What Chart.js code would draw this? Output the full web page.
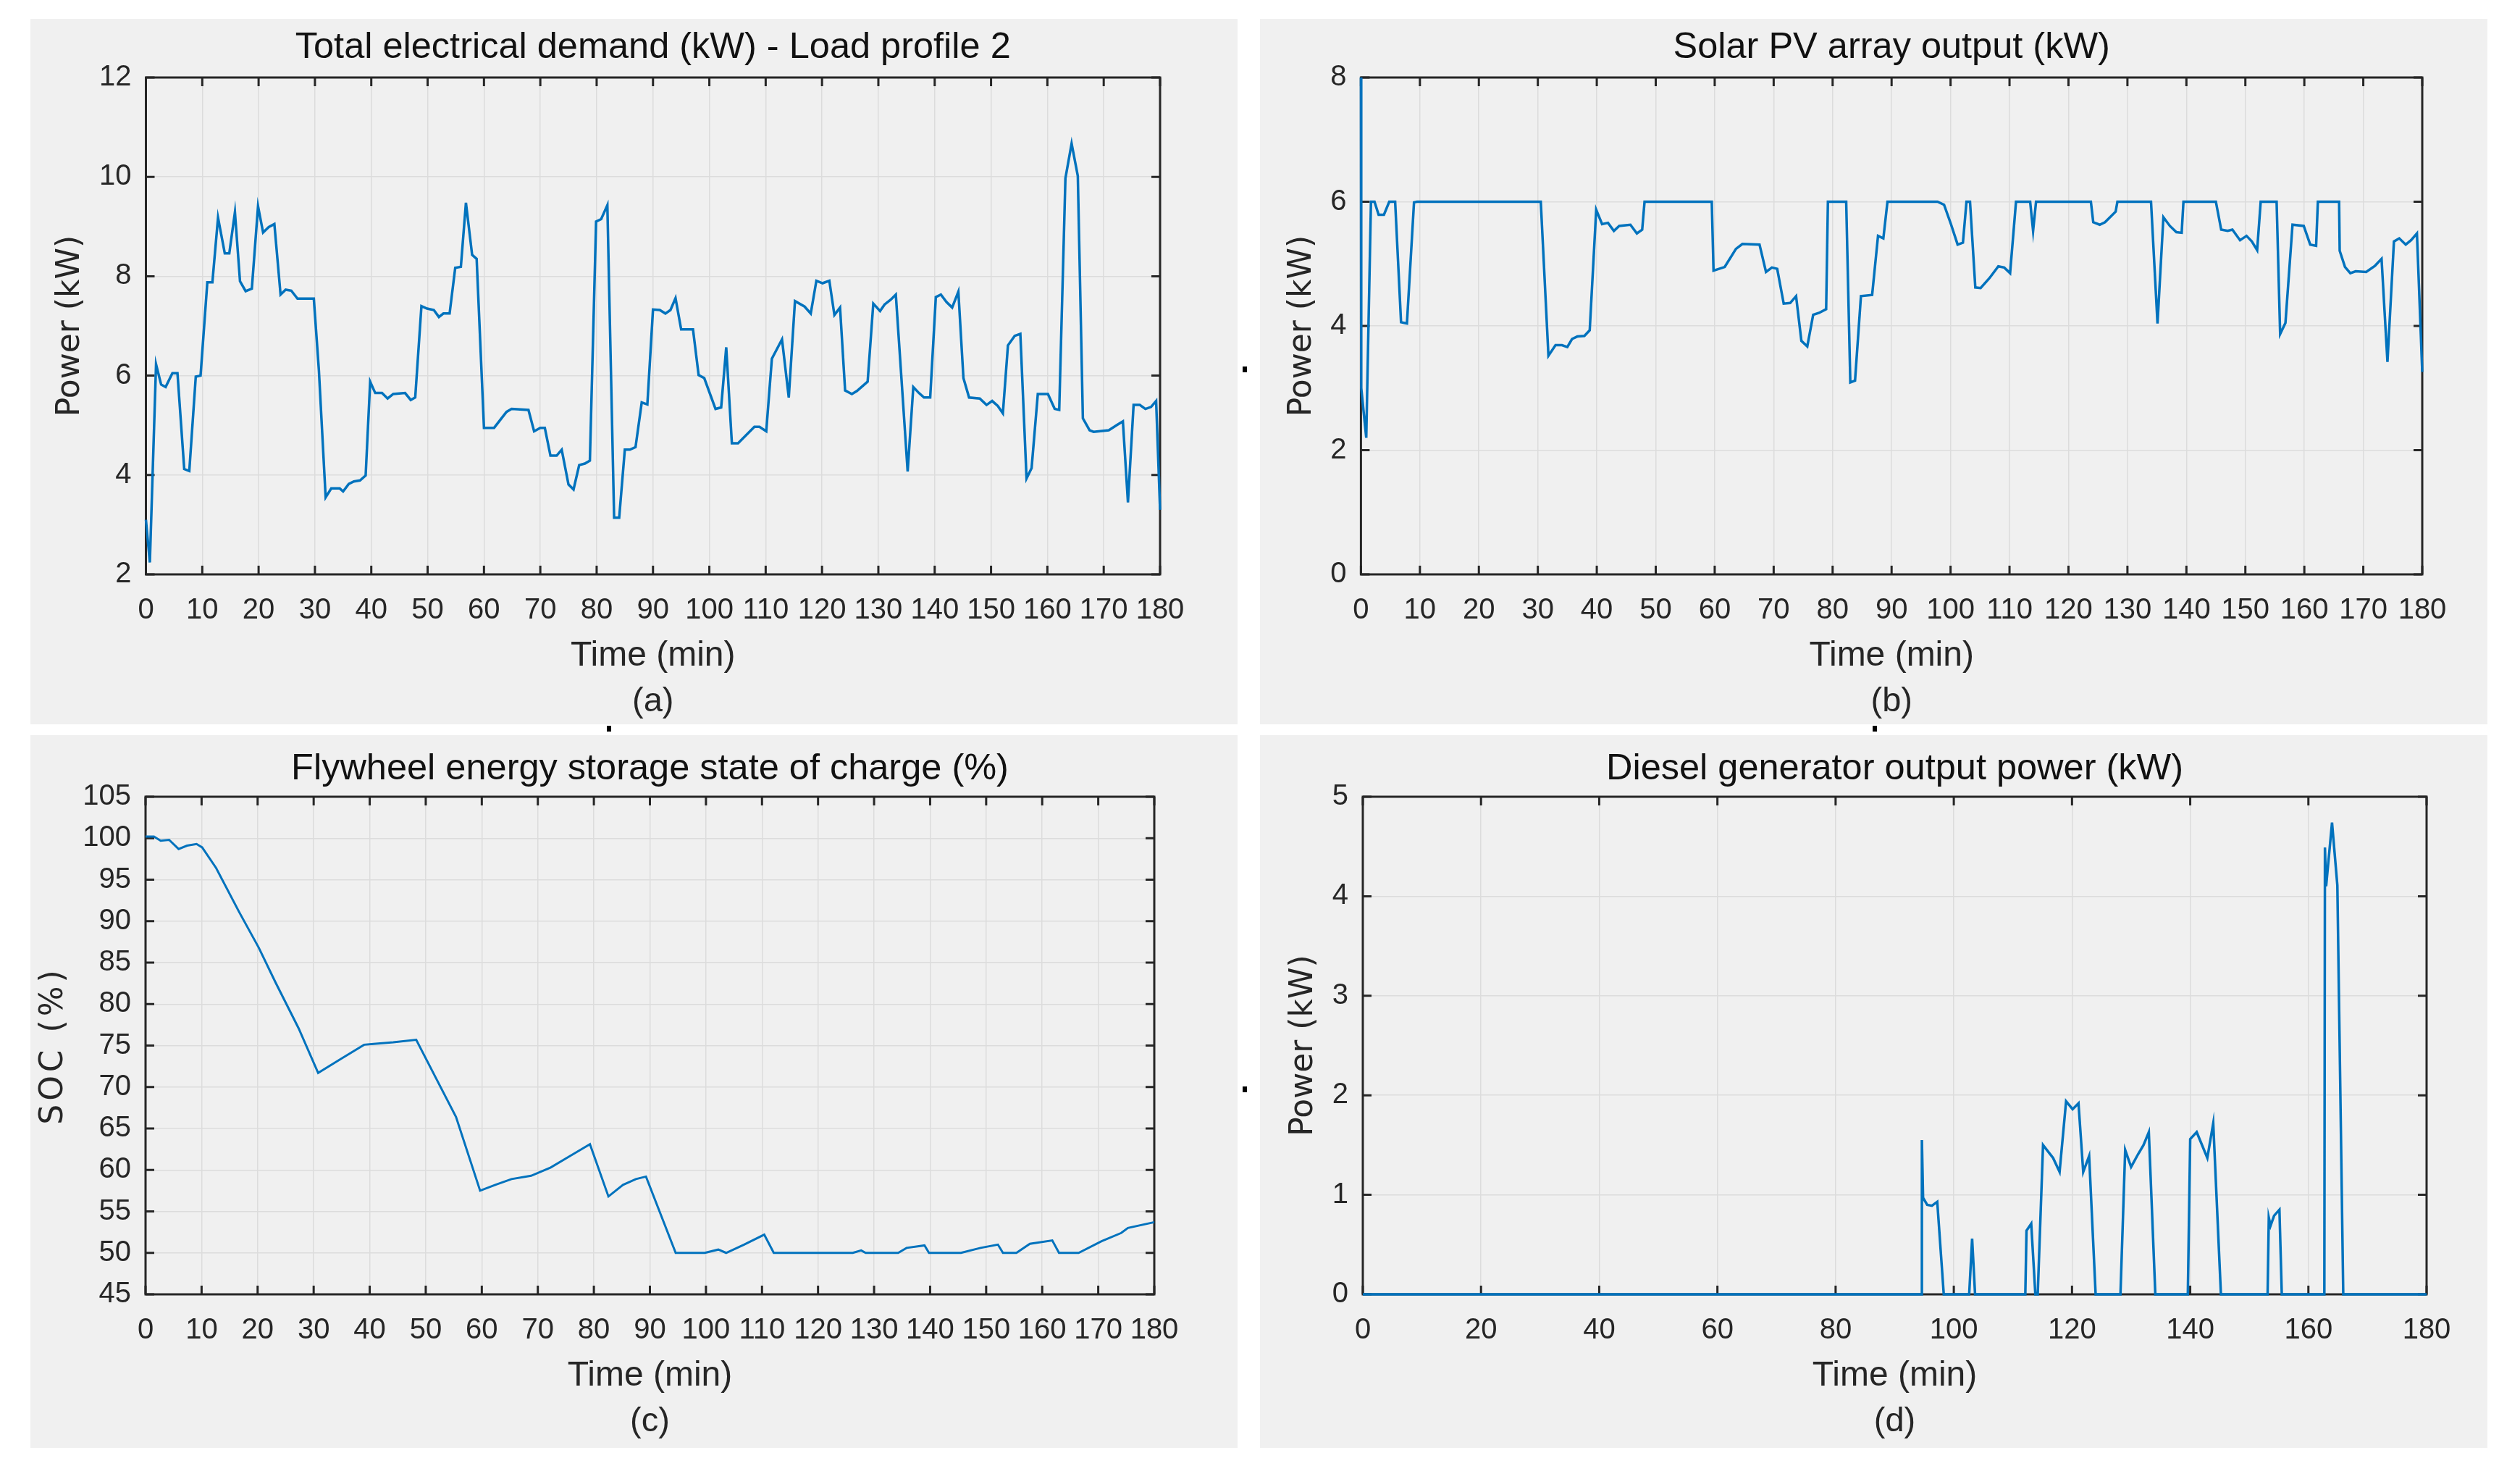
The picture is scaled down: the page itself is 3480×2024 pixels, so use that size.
<!DOCTYPE html>
<html>
<head>
<meta charset="utf-8">
<title>Microgrid simulation results</title>
<script src="https://cdn.jsdelivr.net/npm/chart.js@4.4.1/dist/chart.umd.min.js"></script>
<style>
  html, body { margin: 0; padding: 0; background: #fff; }
  body { width: 3480px; height: 2024px; position: relative; overflow: hidden; }
  .panel { position: absolute; background: #f0f0f0; }
  .panel canvas { display: block; }
  .dot { position: absolute; width: 6px; height: 8px; background: #000; }
</style>
</head>
<body>
<div class="panel" style="left:42px;top:26px;width:1667px;height:974px"><canvas id="chartA" width="1667" height="974"></canvas></div>
<div class="panel" style="left:1740px;top:26px;width:1695px;height:974px"><canvas id="chartB" width="1695" height="974"></canvas></div>
<div class="panel" style="left:42px;top:1015px;width:1667px;height:984px"><canvas id="chartC" width="1667" height="984"></canvas></div>
<div class="panel" style="left:1740px;top:1015px;width:1695px;height:984px"><canvas id="chartD" width="1695" height="984"></canvas></div>
<div class="dot" style="left:1716px;top:506px"></div>
<div class="dot" style="left:1716px;top:1500px"></div>
<div class="dot" style="left:838px;top:1002px"></div>
<div class="dot" style="left:2586px;top:1002px"></div>
<script>
// [time (min), value]
const demand = [[0,3.1],[0.7,2.24],[1.8,6.23],[2.7,5.82],[3.5,5.77],[4.7,6.05],[5.6,6.05],[6.8,4.12],[7.7,4.08],[8.85,5.98],
  [9.7,6.0],[10.9,7.88],[11.8,7.88],[12.8,9.18],[14.0,8.46],[14.8,8.46],[15.8,9.29],[16.7,7.9],[17.7,7.7],[18.8,7.75],
  [19.9,9.41],[20.8,8.88],[21.8,8.99],[22.8,9.05],[23.9,7.63],[24.8,7.73],[25.8,7.71],[26.9,7.55],[29.8,7.55],[30.7,6.11],
  [31.9,3.55],[32.9,3.73],[34.4,3.73],[35.0,3.67],[36.0,3.82],[36.9,3.87],[38.0,3.89],[39.0,3.99],[39.8,5.88],[40.7,5.65],
  [41.9,5.65],[42.9,5.54],[43.9,5.63],[46.0,5.65],[47.0,5.51],[47.8,5.56],[48.9,7.4],[49.9,7.35],[51.1,7.32],[52.0,7.18],
  [52.8,7.25],[53.9,7.25],[54.9,8.17],[55.9,8.19],[56.8,9.48],[57.9,8.43],[58.7,8.35],[60.0,4.95],[61.8,4.95],[64.0,5.27],
  [64.9,5.33],[67.9,5.31],[68.9,4.88],[70.0,4.95],[70.8,4.95],[71.8,4.39],[72.9,4.39],[73.8,4.51],[75.0,3.81],[75.9,3.71],
  [76.9,4.2],[77.9,4.23],[78.8,4.29],[79.9,9.1],[80.8,9.15],[81.9,9.43],[83.1,3.14],[84.0,3.14],[85.0,4.51],[85.9,4.51],
  [86.9,4.56],[88.0,5.46],[89.0,5.42],[90.0,7.33],[91.2,7.32],[92.2,7.25],[93.1,7.32],[94.0,7.56],[95.0,6.93],[97.1,6.93],
  [98.1,6.01],[99.1,5.95],[101.1,5.33],[102.1,5.36],[103.0,6.57],[104.0,4.64],[105.1,4.64],[108.0,4.97],[108.9,4.97],[110.1,4.88],
  [111.1,6.34],[112.9,6.73],[114.1,5.56],[115.2,7.5],[116.9,7.39],[118.0,7.25],[119.0,7.91],[120.1,7.86],[121.3,7.91],[122.2,7.22],
  [123.2,7.37],[124.1,5.7],[125.3,5.63],[126.2,5.69],[128.1,5.88],[129.1,7.45],[130.3,7.3],[131.1,7.43],[132.2,7.53],[133.1,7.63],
  [134.0,6.11],[135.2,4.07],[136.2,5.77],[137.2,5.65],[138.1,5.56],[139.2,5.56],[140.2,7.58],[141.1,7.63],[142.1,7.48],[143.1,7.37],
  [144.2,7.69],[145.1,5.95],[146.1,5.56],[148.0,5.54],[149.2,5.41],[150.2,5.49],[151.2,5.39],[152.1,5.24],[153.0,6.61],[154.2,6.8],
  [155.2,6.84],[156.3,3.93],[157.2,4.14],[158.3,5.63],[160.1,5.63],[161.3,5.33],[162.1,5.31],[163.2,9.97],[164.3,10.67],[165.4,10.02],
  [166.3,5.14],[167.5,4.9],[168.2,4.87],[170.9,4.9],[172.4,5.01],[173.4,5.08],[174.3,3.45],[175.3,5.41],[176.4,5.41],[177.4,5.33],
  [178.4,5.37],[179.3,5.49],[180,3.3]];

const solarPV = [[0,8],[0.05,3.0],[0.9,2.2],[1.7,6],[2.3,6],[3.0,5.79],[3.9,5.79],[4.8,6],[5.8,6],[6.8,4.06],
  [7.8,4.04],[9.0,5.99],[9.5,6],[30.5,6],[31.8,3.52],[33.0,3.69],[34.1,3.69],[35.0,3.66],[35.8,3.79],[36.7,3.83],
  [37.9,3.84],[38.8,3.93],[39.9,5.87],[40.9,5.64],[41.9,5.66],[42.9,5.53],[43.8,5.61],[45.7,5.63],[46.8,5.49],[47.7,5.55],
  [48.1,6],[59.5,6],[59.8,4.89],[61.7,4.95],[63.6,5.24],[64.7,5.32],[67.6,5.31],[68.7,4.87],[69.7,4.94],[70.6,4.92],
  [71.7,4.36],[72.8,4.37],[73.8,4.48],[74.7,3.76],[75.7,3.67],[76.7,4.18],[77.7,4.21],[78.9,4.27],[79.2,6],[82.3,6],
  [83.0,3.09],[83.8,3.12],[84.8,4.48],[86.7,4.5],[87.7,5.45],[88.6,5.41],[89.3,6],[97.8,6],[98.9,5.95],[100.1,5.63],
  [101.2,5.31],[102.1,5.34],[102.7,6],[103.3,6],[104.2,4.62],[105.1,4.61],[106.6,4.77],[108.1,4.96],[109.1,4.94],[110.1,4.85],
  [111.1,6],[113.5,6],[114.0,5.53],[114.5,6],[123.8,6],[124.2,5.67],[125.3,5.63],[126.2,5.67],[128.0,5.84],[128.3,6],
  [134.0,6],[135.1,4.04],[136.1,5.75],[137.2,5.61],[138.3,5.51],[139.2,5.5],[139.5,6],[145.0,6],[145.9,5.55],[147.0,5.53],
  [147.8,5.55],[149.1,5.38],[150.2,5.45],[151.1,5.36],[152.0,5.22],[152.6,6],[155.3,6],[155.9,3.87],[156.8,4.05],[158.0,5.63],
  [159.9,5.61],[161.0,5.31],[162.0,5.29],[162.3,6],[165.9,6],[166.0,5.21],[166.9,4.95],[167.8,4.85],[168.7,4.88],[170.5,4.87],
  [172.0,4.97],[173.1,5.08],[174.1,3.42],[175.2,5.36],[176.1,5.41],[177.2,5.31],[178.1,5.38],[179.1,5.49],[180,3.26]];

const flywheelSOC = [[0,100.2],[1.5,100.2],[2.7,99.7],[4.2,99.8],[5.9,98.7],[7.4,99.1],[9.1,99.3],[10.1,98.9],[12.6,96.4],[16.7,91.1],
  [20.2,86.8],[23.2,82.6],[27.3,77.1],[30.8,71.7],[34.9,73.4],[39.0,75.1],[40.7,75.2],[44.2,75.4],[48.3,75.7],[51.8,71.1],
  [55.4,66.4],[59.7,57.5],[62.4,58.2],[65.3,58.9],[68.8,59.3],[72.3,60.3],[75.8,61.7],[79.3,63.1],[82.6,56.8],[85.2,58.2],
  [87.5,58.9],[89.3,59.2],[94.6,50],[99.8,50],[102.2,50.4],[103.6,50],[106.8,51],[110.4,52.2],[112.1,50],[126.2,50],
  [127.7,50.3],[128.5,50],[134.3,50],[135.8,50.6],[139.0,50.9],[139.8,50],[145.5,50],[149.0,50.6],[152.1,51],[153.0,50],
  [155.4,50],[157.8,51.1],[161.8,51.5],[163.0,50],[166.5,50],[170.6,51.4],[174.1,52.4],[175.3,53],[180,53.7]];

const dieselOut = [[0,0],[94.6,0],[94.6,1.55],[94.8,0.97],[95.5,0.9],[96.3,0.89],[97.2,0.93],[98.3,0],[102.6,0],[103.1,0.56],
  [103.6,0],[112.1,0],[112.3,0.64],[113.1,0.71],[113.8,0],[114.2,0],[115.1,1.5],[116.8,1.37],[117.9,1.23],[119.0,1.94],
  [120.1,1.86],[121.1,1.92],[121.9,1.23],[122.9,1.39],[124.0,0],[128.2,0],[129.0,1.45],[130.0,1.28],[131.2,1.41],[132.1,1.5],
  [133.0,1.63],[134.1,0],[139.6,0],[140.0,1.56],[141.1,1.63],[142.9,1.37],[143.9,1.72],[145.2,0],[153.1,0],[153.3,0.77],
  [153.6,0.69],[154.2,0.79],[155.1,0.85],[155.5,0],[162.7,0],[162.8,4.49],[163.0,4.1],[164.0,4.74],[164.9,4.11],[165.9,0],
  [180,0]];

const BLUE = '#0072BD';
const AXIS = '#262626';

Chart.defaults.font.family = "'Liberation Sans', Arial, sans-serif";
Chart.defaults.color = AXIS;
Chart.defaults.animation = false;

// matlab look: black box with inward ticks, titles round the axes
const matlabAxes = {
  id: 'matlabAxes',
  beforeDatasetsDraw(chart, args, o) {
    const { ctx, chartArea: a, scales: { x, y } } = chart;
    ctx.save();
    ctx.strokeStyle = AXIS;
    ctx.lineWidth = 3;
    ctx.strokeRect(a.left, a.top, a.right - a.left, a.bottom - a.top);
    ctx.beginPath();
    x.ticks.forEach(t => {
      const px = x.getPixelForValue(t.value);
      ctx.moveTo(px, a.bottom); ctx.lineTo(px, a.bottom - 12);
      ctx.moveTo(px, a.top); ctx.lineTo(px, a.top + 12);
    });
    y.ticks.forEach(t => {
      const py = y.getPixelForValue(t.value);
      ctx.moveTo(a.left, py); ctx.lineTo(a.left + 12, py);
      ctx.moveTo(a.right, py); ctx.lineTo(a.right - 12, py);
    });
    ctx.stroke();
    ctx.restore();
  },
  afterDraw(chart, args, o) {
    const { ctx, chartArea: a } = chart;
    const cx = (a.left + a.right) / 2;
    ctx.save();
    ctx.fillStyle = '#111';
    ctx.textAlign = 'center';
    ctx.textBaseline = 'alphabetic';
    ctx.font = "50.5px 'Liberation Sans', Arial, sans-serif";
    ctx.fillText(o.title, cx, a.top - o.titleDy);
    ctx.fillStyle = AXIS;
    ctx.font = "48px 'Liberation Sans', Arial, sans-serif";
    ctx.fillText('Time (min)', cx, a.bottom + 126);
    ctx.font = "47px 'Liberation Sans', Arial, sans-serif";
    ctx.fillText(o.letter, cx, a.bottom + 189);
    ctx.translate(a.left - o.yTitleDx, (a.top + a.bottom) / 2);
    ctx.rotate(-Math.PI / 2);
    ctx.textBaseline = 'middle';
    ctx.font = "44px 'DejaVu Sans', sans-serif";
    ctx.letterSpacing = (o.ySpacing || 0) + 'px';
    ctx.fillText(o.yTitle, 0, 0);
    ctx.restore();
  }
};

function makeChart(id, series, s) {
  new Chart(document.getElementById(id), {
    type: 'line',
    data: {
      datasets: [{
        data: series.map(p => ({ x: p[0], y: p[1] })),
        borderColor: BLUE,
        borderWidth: s.lineWidth,
        pointRadius: 0,
        tension: 0,
        fill: false,
        clip: 6
      }]
    },
    options: {
      responsive: false,
      devicePixelRatio: 1,
      layout: { padding: s.padding },
      plugins: {
        legend: { display: false },
        tooltip: { enabled: false },
        matlabAxes: s.text
      },
      scales: {
        x: {
          type: 'linear',
          min: 0, max: 180,
          afterFit: sc => { sc.height = s.xHeight; },
          ticks: { stepSize: s.xStep, autoSkip: false, maxRotation: 0, padding: 26, font: { size: 40 } },
          grid: { color: '#dcdcdc', lineWidth: 1.5, drawTicks: false },
          border: { display: false }
        },
        y: {
          min: s.yMin, max: s.yMax,
          afterFit: sc => { sc.width = s.yWidth; },
          ticks: { stepSize: s.yStep, padding: 20, font: { size: 40 } },
          grid: { color: '#dcdcdc', lineWidth: 1.5, drawTicks: false },
          border: { display: false }
        }
      }
    },
    plugins: [matlabAxes]
  });
}

makeChart('chartA', demand, {
  lineWidth: 3.5, xStep: 10, yMin: 2, yMax: 12, yStep: 2,
  padding: { top: 81, right: 107, bottom: 0, left: 0 }, yWidth: 159.5, xHeight: 207,
  text: { title: 'Total electrical demand (kW) - Load profile 2', titleDy: 27, letter: '(a)', yTitle: 'Power (kW)', yTitleDx: 104 }
});
makeChart('chartB', solarPV, {
  lineWidth: 3.5, xStep: 10, yMin: 0, yMax: 8, yStep: 2,
  padding: { top: 81, right: 90, bottom: 0, left: 0 }, yWidth: 139.4, xHeight: 207,
  text: { title: 'Solar PV array output (kW)', titleDy: 27, letter: '(b)', yTitle: 'Power (kW)', yTitleDx: 81 }
});
makeChart('chartC', flywheelSOC, {
  lineWidth: 3, xStep: 10, yMin: 45, yMax: 105, yStep: 5,
  padding: { top: 85, right: 115, bottom: 0, left: 0 }, yWidth: 159, xHeight: 212,
  text: { title: 'Flywheel energy storage state of charge (%)', titleDy: 24, letter: '(c)', yTitle: 'SOC (%)', yTitleDx: 126, ySpacing: 5 }
});
makeChart('chartD', dieselOut, {
  lineWidth: 3.5, xStep: 20, yMin: 0, yMax: 5, yStep: 1,
  padding: { top: 85, right: 84, bottom: 0, left: 0 }, yWidth: 142, xHeight: 212,
  text: { title: 'Diesel generator output power (kW)', titleDy: 24, letter: '(d)', yTitle: 'Power (kW)', yTitleDx: 81 }
});
</script>
</body>
</html>
